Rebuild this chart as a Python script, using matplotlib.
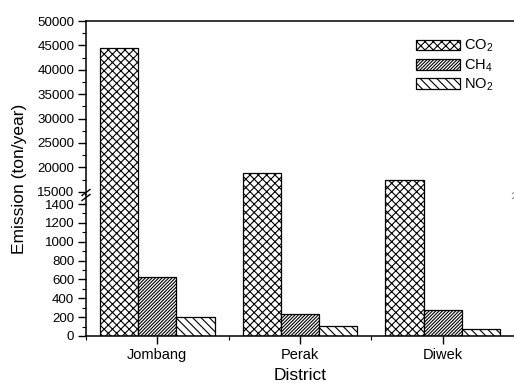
import matplotlib
matplotlib.use("Agg")
import matplotlib.pyplot as plt
import numpy as np
from matplotlib.ticker import MultipleLocator

plt.rcParams['font.family'] = ['Liberation Sans', 'DejaVu Sans']
plt.rcParams['hatch.linewidth'] = 0.8

districts = ['Jombang', 'Perak', 'Diwek']
co2 = [44500, 18900, 17500]
ch4 = [627, 231, 281]
no2 = [199, 103, 79]
series_labels = [r'$\mathregular{CO_2}$', r'$\mathregular{CH_4}$', r'$\mathregular{NO_2}$']
hatches = ['xxxx', '//////////', '\\\\\\\\']
upper_ticks = np.arange(15000, 50001, 5000)
lower_ticks = np.arange(0, 1401, 200)

W, H = 514, 383
fig = plt.figure(figsize=(W / 100, H / 100), dpi=100)
left = 86 / W
right = 514 / W
y_top = 21
y_break = 195
y_bot = 336
ax_up = fig.add_axes([left, 1 - y_break / H, right - left, (y_break - y_top) / H])
ax_lo = fig.add_axes([left, 1 - y_bot / H, right - left, (y_bot - y_break) / H])

x = np.arange(len(districts))
w = 0.268
for ax in (ax_up, ax_lo):
    for i, (vals, hat, lab) in enumerate(zip([co2, ch4, no2], hatches, series_labels)):
        ax.bar(x + (i - 1) * w, vals, width=w, facecolor='white', edgecolor='black',
               hatch=hat, linewidth=0.9, label=lab)
    ax.set_xlim(-0.5, 2.5)
    for s in ax.spines.values():
        s.set_linewidth(1.1)
    ax.spines['right'].set_visible(False)
    ax.tick_params(axis='y', which='major', direction='out', length=5.5, width=1, labelsize=9.6, pad=3)
    ax.tick_params(axis='y', which='minor', direction='out', length=3, width=0.8)

ax_up.set_ylim(14323, 50000)
ax_up.set_yticks(upper_ticks)
ax_up.yaxis.set_minor_locator(MultipleLocator(2500))
ax_up.spines['bottom'].set_visible(False)
ax_up.tick_params(axis='x', which='both', bottom=False, labelbottom=False)

ax_lo.set_ylim(0, 1496)
ax_lo.set_yticks(lower_ticks)
ax_lo.yaxis.set_minor_locator(MultipleLocator(100))
ax_lo.spines['top'].set_visible(False)
ax_lo.set_xticks(x)
ax_lo.set_xticklabels(districts)
ax_lo.set_xticks([-0.5, 0.5, 1.5, 2.5], minor=True)
ax_lo.tick_params(axis='x', which='major', direction='out', length=5.5, width=1, labelsize=10.5, pad=3)
ax_lo.tick_params(axis='x', which='minor', direction='out', length=3, width=0.8)

# break marks on the left axis
kw = dict(color='black', linewidth=1.0, clip_on=False)
for dy in (-2.5, 2.5):
    yc = 1 - (y_break + dy) / H
    fig.add_artist(plt.Line2D([left - 4 / W, left + 4 / W], [yc - 3 / H, yc + 3 / H],
                              transform=fig.transFigure, **kw))
# faint clipped break marks at the right edge
for dy in (-2.5, 2.5):
    yc = 1 - (y_break + dy) / H
    fig.add_artist(plt.Line2D([right - 1.5 / W, right + 2 / W], [yc - 1 / H, yc + 1 / H],
                              transform=fig.transFigure, color='#888888', linewidth=0.8, clip_on=False))

handles, labels = ax_up.get_legend_handles_labels()
ax_up.legend(handles, labels, loc='upper left', bbox_to_anchor=(416 / W, 1 - 38 / H),
             bbox_transform=fig.transFigure, frameon=False, fontsize=10.5,
             handlelength=3.0, handleheight=0.75, handletextpad=0.3,
             labelspacing=0.2, borderpad=0, borderaxespad=0)

fig.text(20 / W, 1 - 179 / H, 'Emission (ton/year)', rotation=90, ha='center', va='center', fontsize=12.5)
fig.text(300 / W, 1 - 376 / H, 'District', ha='center', va='center', fontsize=12.5)

fig.savefig('out.png', dpi=100)
